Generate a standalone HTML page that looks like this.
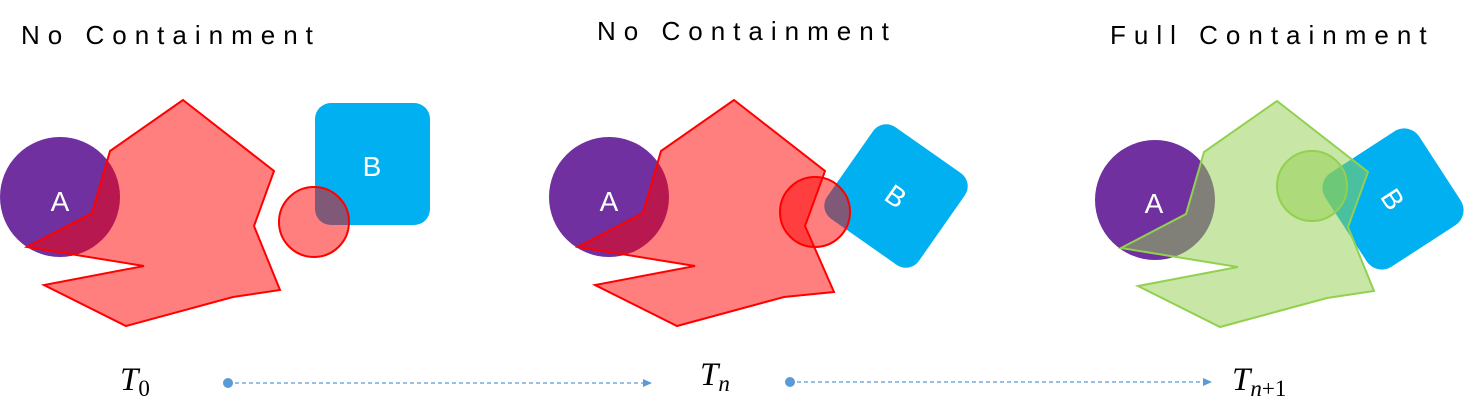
<!DOCTYPE html>
<html><head><meta charset="utf-8"><style>
body{margin:0;background:#fff;width:1483px;height:407px;overflow:hidden}
</style></head><body>
<svg width="1483" height="407" viewBox="0 0 1483 407" xmlns="http://www.w3.org/2000/svg">
<g font-family="Liberation Sans, sans-serif" font-size="26" letter-spacing="8" fill="#000">
<text x="21" y="44">No Containment</text>
<text x="597" y="40">No Containment</text>
<text x="1110" y="44">Full Containment</text>
</g>
<!-- Panel 1 -->
<circle cx="60" cy="197" r="60" fill="#7030a0"/>
<rect x="315" y="103" width="115" height="122" rx="16" fill="#00b0f0"/>
<polygon points="183,100 274,171 254,226 280,290 233,297 126,326 44,285 144,266 27,247 92,213 110,151" fill="rgba(255,0,0,0.5)" stroke="#f00" stroke-width="2"/>
<circle cx="314" cy="222" r="35" fill="rgba(255,0,0,0.5)" stroke="#f00" stroke-width="2"/>
<g font-family="Liberation Sans, sans-serif" font-size="28" fill="#fff" text-anchor="middle">
<text x="60" y="211">A</text><text x="372" y="176">B</text></g>
<!-- Panel 2 -->
<circle cx="609" cy="197" r="60" fill="#7030a0"/>
<g transform="translate(896,196) rotate(35)"><rect x="-56" y="-56" width="112" height="112" rx="16" fill="#00b0f0"/><text x="0" y="10" font-family="Liberation Sans, sans-serif" font-size="28" fill="#fff" text-anchor="middle">B</text></g>
<polygon transform="translate(551,0)" points="183,100 274,171 254,226 283,292 233,297 126,326 44,285 144,266 27,247 92,213 110,151" fill="rgba(255,0,0,0.5)" stroke="#f00" stroke-width="2"/>
<circle cx="815" cy="212" r="35" fill="rgba(255,0,0,0.5)" stroke="#f00" stroke-width="2"/>
<text x="609" y="211" font-family="Liberation Sans, sans-serif" font-size="28" fill="#fff" text-anchor="middle">A</text>
<!-- Panel 3 -->
<circle cx="1155" cy="200" r="60" fill="#7030a0"/>
<g transform="translate(1393,199) rotate(57)"><rect x="-56" y="-56" width="112" height="112" rx="18" fill="#00b0f0"/><text x="0" y="10" font-family="Liberation Sans, sans-serif" font-size="28" fill="#fff" text-anchor="middle">B</text></g>
<polygon transform="translate(1094,1)" points="183,100 274,171 254,226 280,290 233,297 126,326 44,285 144,266 27,247 92,213 110,151" fill="rgba(146,208,80,0.5)" stroke="#92d050" stroke-width="2"/>
<circle cx="1312" cy="186" r="35" fill="rgba(146,208,80,0.5)" stroke="#92d050" stroke-width="2"/>
<text x="1154" y="213" font-family="Liberation Sans, sans-serif" font-size="28" fill="#fff" text-anchor="middle">A</text>
<!-- time labels -->
<g font-family="Liberation Serif, serif" font-style="italic" font-size="33" fill="#000">
<text x="120" y="390">T<tspan font-style="normal" font-size="23" dy="6">0</tspan></text>
<text x="700" y="385">T<tspan font-size="23" dy="6">n</tspan></text>
<text x="1232" y="390">T<tspan font-size="23" dy="6">n</tspan><tspan font-style="normal" font-size="23">+1</tspan></text>
</g>
<g stroke="#5b9bd5" stroke-width="1.2" stroke-dasharray="4,3" fill="none">
<line x1="228" y1="383" x2="645" y2="383"/>
<line x1="790" y1="382" x2="1205" y2="382"/>
</g>
<g fill="#5b9bd5">
<circle cx="228" cy="383" r="5"/><polygon points="652,383 643,379 643,387"/>
<circle cx="790" cy="382" r="5"/><polygon points="1212,382 1203,378 1203,386"/>
</g>
</svg>
</body></html>
